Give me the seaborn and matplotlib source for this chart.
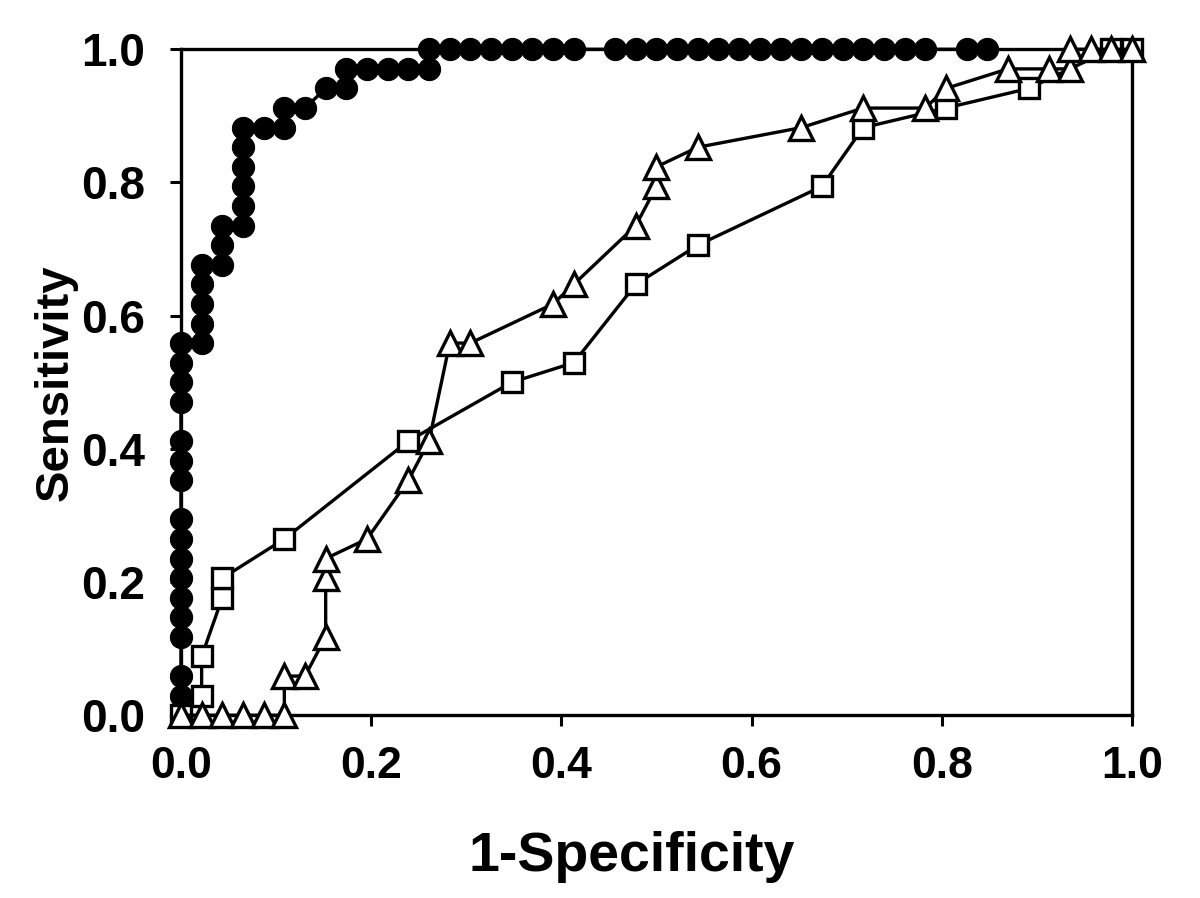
import numpy as np
import pandas as pd
import matplotlib
matplotlib.use("Agg")
import matplotlib.pyplot as plt
import seaborn as sns

# 46 negatives, 34 positives -> steps of 1/46 on x and 1/34 on y
NX = 46
NY = 34

# filled circles
circ_x = [0, 0, 0, 0, 0, 0, 0, 0, 0, 0, 0, 0, 0, 0, 0, 0, 0,
          1, 1, 1, 1, 1, 2, 2, 2, 3, 3, 3, 3, 3, 3, 4, 5, 5, 6, 7, 8, 8,
          9, 10, 11, 12, 12, 13, 14, 15, 16, 17, 18, 19,
          21, 22, 23, 24, 25, 26, 27, 28, 29, 30, 31, 32, 33, 34, 35, 36, 38, 39]
circ_y = [0, 1, 2, 4, 5, 6, 7, 8, 9, 10, 12, 13, 14, 16, 17, 18, 19,
          19, 20, 21, 22, 23, 23, 24, 25, 25, 26, 27, 28, 29, 30, 30, 30, 31, 31, 32, 32, 33,
          33, 33, 33, 33, 34, 34, 34, 34, 34, 34, 34, 34,
          34, 34, 34, 34, 34, 34, 34, 34, 34, 34, 34, 34, 34, 34, 34, 34, 34, 34]

# open squares
sq_x = [0, 1, 1, 2, 2, 5, 11, 16, 19, 22, 25, 31, 33, 37, 41, 45, 46]
sq_y = [0, 1, 3, 6, 7, 9, 14, 17, 18, 22, 24, 27, 30, 31, 32, 34, 34]

# open triangles
tri_x = [0, 1, 2, 3, 4, 5, 5, 6, 7, 7, 7, 9, 11, 12, 13, 14, 18, 19, 22, 23, 23,
         25, 30, 33, 36, 37, 40, 42, 43, 43, 44, 45, 46]
tri_y = [0, 0, 0, 0, 0, 0, 2, 2, 4, 7, 8, 9, 12, 14, 19, 19, 21, 22, 25, 27, 28,
         29, 30, 31, 31, 32, 33, 33, 33, 34, 34, 34, 34]

ticks = [0.0, 0.2, 0.4, 0.6, 0.8, 1.0]
tick_labels = ["0.0", "0.2", "0.4", "0.6", "0.8", "1.0"]

sns.set_style("white")
plt.rcParams['font.family'] = ['Liberation Sans', 'DejaVu Sans']
plt.rcParams['font.weight'] = 'bold'
plt.rcParams['text.color'] = 'black'
plt.rcParams['axes.labelcolor'] = 'black'
plt.rcParams['xtick.color'] = 'black'
plt.rcParams['ytick.color'] = 'black'

fig = plt.figure(figsize=(12, 8.98), dpi=100)
ax = fig.add_axes([0.1508, 0.2035, 0.7925, 0.7416])

df_c = pd.DataFrame({'x': np.array(circ_x) / NX, 'y': np.array(circ_y) / NY})
df_s = pd.DataFrame({'x': np.array(sq_x) / NX, 'y': np.array(sq_y) / NY})
df_t = pd.DataFrame({'x': np.array(tri_x) / NX, 'y': np.array(tri_y) / NY})

sns.lineplot(data=df_c, x='x', y='y', ax=ax, sort=False, estimator=None,
             color='black', lw=2.4, marker='o', markersize=16,
             markerfacecolor='black', markeredgecolor='black', clip_on=False, zorder=3)
sns.lineplot(data=df_s, x='x', y='y', ax=ax, sort=False, estimator=None,
             color='black', lw=2.4, marker='s', markersize=14,
             markerfacecolor='white', markeredgecolor='black', markeredgewidth=2.4,
             clip_on=False, zorder=4)
sns.lineplot(data=df_t, x='x', y='y', ax=ax, sort=False, estimator=None,
             color='black', lw=2.4, marker='^', markersize=17,
             markerfacecolor='white', markeredgecolor='black', markeredgewidth=2.4,
             clip_on=False, zorder=5)

ax.set_xlim(0, 1)
ax.set_ylim(0, 1)
ax.set_xticks(ticks)
ax.set_yticks(ticks)
ax.set_xticklabels(tick_labels, fontsize=32, fontweight='bold')
ax.set_yticklabels(tick_labels, fontsize=33, fontweight='bold')
ax.tick_params(axis='both', direction='out', length=8, width=2.2, color='black',
               bottom=True, left=True, top=False, right=False)
ax.tick_params(axis='x', pad=14)
ax.tick_params(axis='y', pad=18)

for s in ax.spines.values():
    s.set_linewidth(2.4)
    s.set_color('black')

ax.set_xlabel('1-Specificity', fontsize=40, fontweight='bold', va='center')
ax.xaxis.set_label_coords(0.474, -0.213)
ax.set_ylabel('Sensitivity', fontsize=34, fontweight='bold', va='center')
ax.yaxis.set_label_coords(-0.132, 0.5)

fig.savefig('out.png', dpi=100)
